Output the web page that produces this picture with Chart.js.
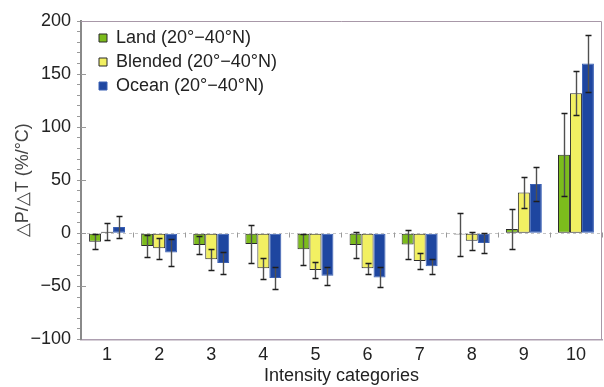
<!DOCTYPE html>
<html>
<head>
<meta charset="utf-8">
<script src="https://cdn.jsdelivr.net/npm/chart.js@4.4.0/dist/chart.umd.min.js"></script>
<style>
html,body{margin:0;padding:0;background:#fff;}
#wrap{width:604px;height:387px;position:relative;}
</style>
</head>
<body>
<div id="wrap"><canvas id="c" width="604" height="387"></canvas></div>
<script>
// ---- data ----
const categories = ['1','2','3','4','5','6','7','8','9','10'];
const seriesNames = ['Land (20°−40°N)', 'Blended (20°−40°N)', 'Ocean (20°−40°N)'];
const landValues    = [-8, -12, -11, -10, -15, -11, -10.5, -1, 4, 74];
const landErrors    = [7, 10, 8.5, 17.5, 14.5, 12.5, 13.5, 20, 19, 39];
const blendedValues = [1.5, -14, -24.5, -33, -34.5, -33, -26, -7, 38.5, 132];
const blendedErrors = [8, 10, 10, 10, 7.5, 5.5, 7.5, 8.5, 15, 20.5];
const oceanValues   = [6, -18, -28, -42, -40, -41.5, -31, -9, 46.5, 160];
const oceanErrors   = [10.5, 12.5, 10.5, 10, 8.5, 9.5, 7, 9.5, 16, 26.5];
const yMin = -100, yMax = 200, yMajorStep = 50, yMinorStep = 10;
const xTitle = 'Intensity categories';
const yTitle = '△P/△T (%/°C)';

const FONT = "'Liberation Sans', Arial, Helvetica, sans-serif";

const errorBars = {
  id: 'errorBars',
  afterDatasetsDraw(chart) {
    const {ctx, scales: {y}} = chart;
    ctx.save();
    chart.data.datasets.forEach((ds, di) => {
      const meta = chart.getDatasetMeta(di);
      meta.data.forEach((bar, i) => {
        const v = ds.data[i], e = ds.errorBars[i];
        const yt = Math.round(y.getPixelForValue(v + e)) + 0.5;
        const yb = Math.round(y.getPixelForValue(v - e)) + 0.5;
        const xc = Math.round(bar.x) + 0.5;
        ctx.strokeStyle = '#505050';
        ctx.lineWidth = 1.4;
        ctx.beginPath(); ctx.moveTo(xc, yt); ctx.lineTo(xc, yb); ctx.stroke();
        ctx.strokeStyle = '#1e1e1e';
        ctx.lineWidth = 1.5;
        ctx.beginPath();
        ctx.moveTo(xc - 3, yt); ctx.lineTo(xc + 3, yt);
        ctx.moveTo(xc - 3, yb); ctx.lineTo(xc + 3, yb);
        ctx.stroke();
      });
    });
    ctx.restore();
  }
};

const frameAndZero = {
  id: 'frameAndZero',
  beforeDatasetsDraw(chart) {
    const {ctx, chartArea: a, scales: {x, y}} = chart;
    const y0 = Math.round(y.getPixelForValue(0)) + 0.5;
    ctx.save();
    ctx.strokeStyle = '#c4c4c4';
    ctx.lineWidth = 1;
    ctx.setLineDash([3, 3]);
    ctx.beginPath(); ctx.moveTo(a.left, y0); ctx.lineTo(a.right, y0); ctx.stroke();
    ctx.setLineDash([]);
    ctx.strokeStyle = '#9a9a9a';
    const step = x.getPixelForTick(1) - x.getPixelForTick(0);
    for (let i = 1; i <= x.ticks.length; i++) {
      const px = Math.round(x.getPixelForTick(0) + (i - 0.5) * step) + 0.5;
      ctx.beginPath(); ctx.moveTo(px, y0 - 1); ctx.lineTo(px, y0 + 4); ctx.stroke();
    }
    // top and right frame
    ctx.strokeStyle = '#a898a8';
    ctx.lineWidth = 1;
    ctx.beginPath();
    ctx.moveTo(a.left, a.top + 0.5);
    ctx.lineTo(a.right - 0.5, a.top + 0.5);
    ctx.lineTo(a.right - 0.5, a.bottom);
    ctx.stroke();
    // inward major ticks on y axis
    ctx.strokeStyle = '#999';
    for (let v = yMin + yMajorStep; v < yMax; v += yMajorStep) {
      const py = Math.round(y.getPixelForValue(v)) + 0.5;
      ctx.beginPath(); ctx.moveTo(a.left, py); ctx.lineTo(a.left + 5, py); ctx.stroke();
    }
    ctx.restore();
  }
};

const legendPlacer = {
  id: 'legendPlacer',
  beforeLayout(chart) {
    const lg = chart.legend;
    if (lg && !lg.__patched) {
      const f = lg.fit.bind(lg);
      lg.fit = function () { f(); this.width = 0; this.height = 0; };
      lg.__patched = true;
    }
  },
  afterLayout(chart) {
    const lg = chart.legend;
    if (!lg) return;
    const w = 320, h = 110;
    lg.left = 93; lg.top = 23; lg.right = lg.left + w; lg.bottom = lg.top + h;
    lg.width = w; lg.height = h;
  }
};

new Chart(document.getElementById('c'), {
  type: 'bar',
  data: {
    labels: categories,
    datasets: [
      { label: seriesNames[0], data: landValues, errorBars: landErrors,
        backgroundColor: '#7cbc1c', borderColor: '#2a2a2a', borderWidth: 1, borderSkipped: false },
      { label: seriesNames[1], data: blendedValues, errorBars: blendedErrors,
        backgroundColor: '#f2f062', borderColor: '#2a2a2a', borderWidth: 1, borderSkipped: false },
      { label: seriesNames[2], data: oceanValues, errorBars: oceanErrors,
        backgroundColor: '#1e46a0', borderColor: '#3a60b4', borderWidth: 1, borderSkipped: false }
    ]
  },
  options: {
    responsive: false,
    animation: false,
    devicePixelRatio: 1,
    layout: { padding: { left: 0, right: 2, top: 21, bottom: 0 } },
    datasets: { bar: { categoryPercentage: 0.69, barPercentage: 1.0 } },
    plugins: {
      legend: {
        position: 'left',
        align: 'start',
        labels: {
          boxWidth: 8, boxHeight: 8, padding: 6,
          color: '#222',
          font: { family: FONT, size: 18 }
        }
      },
      tooltip: { enabled: false }
    },
    scales: {
      x: {
        grid: { display: true, drawOnChartArea: false, drawTicks: false },
        border: { display: true, color: '#ad9fb0', width: 1.5 },
        ticks: { color: '#222', font: { family: FONT, size: 18 }, padding: 5 },
        title: { display: true, text: xTitle, color: '#222', font: { family: FONT, size: 18 }, padding: { top: 0, bottom: 0 } },
        afterFit(s) { s.height = 47.5; }
      },
      y: {
        min: yMin, max: yMax,
        grid: { display: true, drawOnChartArea: false, drawTicks: true, tickLength: 4, tickColor: '#999', tickWidth: 1 },
        border: { display: true, color: '#8a8a8a', width: 2 },
        ticks: {
          stepSize: yMinorStep, autoSkip: false, padding: 6,
          color: '#222', font: { family: FONT, size: 18 },
          callback: v => (v % yMajorStep === 0 ? String(v).replace('-', '−') : '')
        },
        title: { display: true, text: yTitle, color: '#444', font: { family: FONT, size: 18 }, padding: { top: 12, bottom: 0 } },
        afterFit(s) { s.width = 81; }
      }
    }
  },
  plugins: [frameAndZero, errorBars, legendPlacer]
});
</script>
</body>
</html>
